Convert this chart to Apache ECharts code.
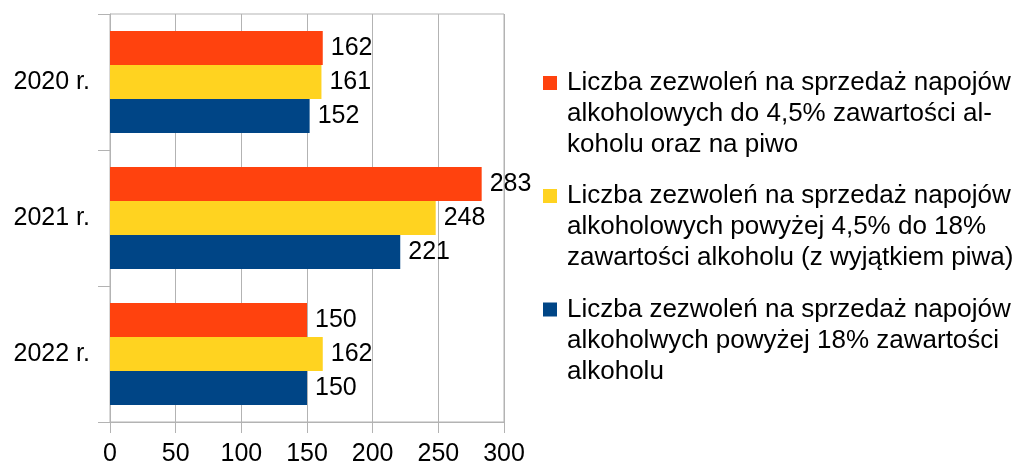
<!DOCTYPE html>
<html>
<head>
<meta charset="utf-8">
<script src="https://cdn.jsdelivr.net/npm/echarts@6/dist/echarts.min.js"></script>
<style>
  html, body { margin: 0; padding: 0; background: #fff; }
  #chart { width: 1016px; height: 467px; }
</style>
</head>
<body>
<div id="chart"></div>
<script>
const categories = ['2020 r.', '2021 r.', '2022 r.'];

const seriesNames = [
  'Liczba zezwoleń na sprzedaż napojów alkoholowych do 4,5% zawartości alkoholu oraz na piwo',
  'Liczba zezwoleń na sprzedaż napojów alkoholowych powyżej 4,5% do 18% zawartości alkoholu (z wyjątkiem piwa)',
  'Liczba zezwoleń na sprzedaż napojów alkoholwych powyżej 18% zawartości alkoholu'
];
// legend text as wrapped in the original
const legendLines = [
  ['Liczba zezwoleń na sprzedaż napojów', 'alkoholowych do 4,5% zawartości al-', 'koholu oraz na piwo'],
  ['Liczba zezwoleń na sprzedaż napojów', 'alkoholowych powyżej 4,5% do 18%', 'zawartości alkoholu (z wyjątkiem piwa)'],
  ['Liczba zezwoleń na sprzedaż napojów', 'alkoholwych powyżej 18% zawartości', 'alkoholu']
];

const upTo45 = [162, 283, 150];
const from45to18 = [161, 248, 162];
const above18 = [152, 221, 150];

const xTicks = [0, 50, 100, 150, 200, 250, 300];

const colors = ['#ff420e', '#ffd320', '#004586'];
const font = 'Liberation Sans, Arial, sans-serif';

let myChart = echarts.init(document.getElementById('chart'));

// legend icon sits next to the first line: two blank lines on top keep
// the first text line centred on the icon
const legendTops = [5.5, 118.5, 232];

let option = {
  color: colors,
  animation: false,
  grid: {
    left: 110,
    right: 512,
    top: 14,
    bottom: 45,
    show: true,
    borderColor: '#b3b3b3',
    borderWidth: 1
  },
  legend: seriesNames.map((name, i) => ({
    data: [name],
    left: 543,
    top: legendTops[i],
    padding: 0,
    orient: 'vertical',
    icon: 'rect',
    itemWidth: 14,
    itemHeight: 14,
    selectedMode: false,
    formatter: () => '\n\n' + legendLines[i].join('\n'),
    textStyle: {
      fontFamily: font,
      fontSize: 26,
      lineHeight: 31,
      color: '#000',
      padding: [0, 0, 0, 5]
    }
  })),
  xAxis: {
    type: 'value',
    min: xTicks[0],
    max: xTicks[xTicks.length - 1],
    interval: xTicks[1] - xTicks[0],
    axisLine: { show: true, lineStyle: { color: '#b3b3b3' } },
    axisTick: { show: true, length: 11, lineStyle: { color: '#b3b3b3' } },
    axisLabel: { fontFamily: font, fontSize: 25, color: '#000', margin: 20 },
    splitLine: { show: true, lineStyle: { color: '#b3b3b3' } }
  },
  yAxis: {
    type: 'category',
    inverse: true,
    data: categories,
    axisLine: { show: true, lineStyle: { color: '#b3b3b3' } },
    axisTick: { show: true, length: 12, lineStyle: { color: '#b3b3b3' } },
    axisLabel: { fontFamily: font, fontSize: 25, color: '#000', margin: 20 },
    splitLine: { show: false }
  },
  series: [upTo45, from45to18, above18].map((data, i) => ({
    name: seriesNames[i],
    type: 'bar',
    data: data,
    barGap: 0,
    barCategoryGap: '25%',
    label: {
      show: true,
      position: 'right',
      distance: 8,
      fontFamily: font,
      fontSize: 25,
      color: '#000'
    }
  }))
};

myChart.setOption(option);
</script>
</body>
</html>
